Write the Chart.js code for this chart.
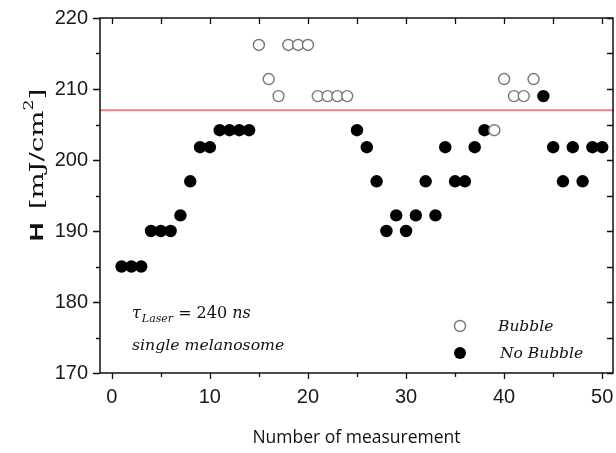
<!DOCTYPE html>
<html>
<head>
<meta charset="utf-8">
<script src="https://cdn.jsdelivr.net/npm/chart.js@4.4.0/dist/chart.umd.min.js"></script>
<style>
  html, body { margin: 0; padding: 0; background: #fff; }
  canvas { display: block; }
</style>
</head>
<body>
<canvas id="show_chart" width="616" height="453"></canvas>
<script>
// measurement number, fluence H [mJ/cm2], and whether a bubble formed (1) or not (0)
const measurement = [1, 2, 3, 4, 5, 6, 7, 8, 9, 10,
    11, 12, 13, 14, 15, 16, 17, 18, 19, 20,
    21, 22, 23, 24, 25, 26, 27, 28, 29, 30,
    31, 32, 33, 34, 35, 36, 37, 38, 39, 40,
    41, 42, 43, 44, 45, 46, 47, 48, 49, 50]
const fluence = [185, 185, 185, 190, 190, 190, 192.2, 197, 201.8, 201.8,
    204.2, 204.2, 204.2, 204.2, 216.2, 211.4, 209, 216.2, 216.2, 216.2,
    209, 209, 209, 209, 204.2, 201.8, 197, 190, 192.2, 190,
    192.2, 197, 192.2, 201.8, 197, 197, 201.8, 204.2, 204.2, 211.4,
    209, 209, 211.4, 209, 201.8, 197, 201.8, 197, 201.8, 201.8]
const bubble = [0, 0, 0, 0, 0, 0, 0, 0, 0, 0,
    0, 0, 0, 0, 1, 1, 1, 1, 1, 1,
    1, 1, 1, 1, 0, 0, 0, 0, 0, 0,
    0, 0, 0, 0, 0, 0, 0, 0, 1, 1,
    1, 1, 1, 0, 0, 0, 0, 0, 0, 0]
const threshold = 207

const xTicks = [0, 5, 10, 15, 20, 25, 30, 35, 40, 45, 50]
const yTicks = [170, 175, 180, 185, 190, 195, 200, 205, 210, 215, 220]
const xRange = [-1.2, 51.1]
const yRange = [170, 220]

const pointsWhere = flag => measurement
    .map((m, i) => ({ x: m, y: fluence[i], b: bubble[i] }))
    .filter(p => p.b === flag)

const tickFont = { family: 'Liberation Sans, Arial, sans-serif', size: 20 }
const serif = 'DejaVu Serif, serif'

// axis frame with tick marks: outward on left/bottom, inward on top/right
const framePlugin = {
    id: 'frame',
    afterDatasetsDraw(chart) {
        const { ctx, chartArea: a, scales: { x, y } } = chart
        ctx.save()
        ctx.strokeStyle = '#111'
        ctx.lineWidth = 1.5
        ctx.strokeRect(a.left, a.top, a.right - a.left, a.bottom - a.top)
        ctx.lineWidth = 1.3
        ctx.beginPath()
        xTicks.forEach(v => {
            const px = Math.round(x.getPixelForValue(v)) + 0.5
            const len = v % 10 === 0 ? 6 : 4
            ctx.moveTo(px, a.bottom); ctx.lineTo(px, a.bottom + len)
            ctx.moveTo(px, a.top); ctx.lineTo(px, a.top + 6)
        })
        yTicks.forEach(v => {
            const py = Math.round(y.getPixelForValue(v)) + 0.5
            const len = v % 10 === 0 ? 7 : 4
            ctx.moveTo(a.left, py); ctx.lineTo(a.left - len, py)
            ctx.moveTo(a.right, py); ctx.lineTo(a.right - 6, py)
        })
        ctx.stroke()
        ctx.restore()
    }
}

// in-plot notes, legend and the mixed-font y title
const notesPlugin = {
    id: 'notes',
    afterDraw(chart) {
        const { ctx, chartArea: a } = chart
        ctx.save()
        ctx.fillStyle = '#111'
        ctx.textBaseline = 'alphabetic'
        ctx.textAlign = 'left'

        // tau_Laser = 240 ns
        let tx = a.left + 32
        const base1 = a.bottom - 55
        ctx.font = 'italic 16px ' + serif
        ctx.fillText('τ', tx, base1)
        tx += ctx.measureText('τ').width + 1
        ctx.font = 'italic 11px ' + serif
        ctx.fillText('Laser', tx, base1 + 4)
        tx += ctx.measureText('Laser').width + 5
        ctx.font = '16px ' + serif
        ctx.fillText('= 240 ', tx, base1)
        tx += ctx.measureText('= 240 ').width
        ctx.font = 'italic 16px ' + serif
        ctx.fillText('ns', tx, base1)
        ctx.font = 'italic 15.7px ' + serif
        ctx.fillText('single melanosome', a.left + 32, a.bottom - 23)

        // legend
        const lx = a.right - 153
        ctx.beginPath()
        ctx.arc(lx, a.bottom - 47, 5.5, 0, Math.PI * 2)
        ctx.fillStyle = '#fff'
        ctx.fill()
        ctx.strokeStyle = '#777'
        ctx.lineWidth = 1.4
        ctx.stroke()
        ctx.beginPath()
        ctx.arc(lx, a.bottom - 20, 6, 0, Math.PI * 2)
        ctx.fillStyle = '#000'
        ctx.fill()
        ctx.fillStyle = '#111'
        ctx.font = 'italic 15.5px ' + serif
        ctx.fillText('Bubble', a.right - 115, a.bottom - 42)
        ctx.fillText('No Bubble', a.right - 113, a.bottom - 15)

        // y title, rotated and stretched along its length
        ctx.translate(a.left - 62, 165)
        ctx.rotate(-Math.PI / 2)
        ctx.scale(1.45, 1)
        const parts = [
            ['bold 18px Liberation Sans, Arial, sans-serif', 'H', 0, 9],
            ['19px ' + serif, '[mJ/cm', 0, 0],
            ['12px ' + serif, '2', -8, 0],
            ['19px ' + serif, ']', 0, 0]
        ]
        let total = 0
        parts.forEach(p => { ctx.font = p[0]; total += ctx.measureText(p[1]).width + p[3] })
        let px = -total / 2
        ctx.textBaseline = 'middle'
        parts.forEach(p => {
            ctx.font = p[0]
            ctx.fillText(p[1], px, p[2])
            px += ctx.measureText(p[1]).width + p[3]
        })
        ctx.restore()
    }
}

new Chart(document.querySelector('#show_chart').getContext('2d'), {
    type: 'scatter',
    data: {
        datasets: [
            {
                label: 'Bubble',
                data: pointsWhere(1),
                pointRadius: 5.5,
                pointBackgroundColor: '#fff',
                pointBorderColor: '#777',
                pointBorderWidth: 1.4,
                order: 1
            },
            {
                label: 'No Bubble',
                data: pointsWhere(0),
                pointRadius: 6.2,
                pointBackgroundColor: '#000',
                pointBorderColor: '#000',
                pointBorderWidth: 0,
                order: 1
            },
            {
                type: 'line',
                label: 'threshold',
                data: [{ x: xRange[0], y: threshold }, { x: xRange[1], y: threshold }],
                borderColor: '#f27f7f',
                borderWidth: 2,
                pointRadius: 0,
                order: 3
            }
        ]
    },
    options: {
        responsive: false,
        animation: false,
        layout: { autoPadding: false, padding: { top: 18, right: 3, left: 0, bottom: 0 } },
        plugins: {
            legend: { display: false },
            tooltip: { enabled: false },
            title: { display: false }
        },
        scales: {
            x: {
                type: 'linear',
                min: xRange[0],
                max: xRange[1],
                afterBuildTicks: s => { s.ticks = xTicks.map(v => ({ value: v })) },
                afterFit: s => { s.height = 80; s.paddingLeft = 0; s.paddingRight = 0 },
                grid: { display: false, drawTicks: false },
                border: { display: false },
                ticks: {
                    autoSkip: false,
                    maxRotation: 0,
                    padding: 12,
                    color: '#1a1a1a',
                    font: tickFont,
                    callback: v => v % 10 === 0 ? v : ''
                },
                title: {
                    display: true,
                    text: 'Number of measurement',
                    color: '#111',
                    font: { family: 'Open Sans, sans-serif', size: 17.5 },
                    padding: { top: 27 }
                }
            },
            y: {
                min: yRange[0],
                max: yRange[1],
                afterBuildTicks: s => { s.ticks = yTicks.map(v => ({ value: v })) },
                afterFit: s => { s.width = 100; s.paddingTop = 0; s.paddingBottom = 0 },
                grid: { display: false, drawTicks: false },
                border: { display: false },
                ticks: {
                    autoSkip: false,
                    padding: 12,
                    color: '#1a1a1a',
                    font: tickFont,
                    callback: v => v % 10 === 0 ? v : ''
                }
            }
        }
    },
    plugins: [framePlugin, notesPlugin]
})
</script>
</body>
</html>
